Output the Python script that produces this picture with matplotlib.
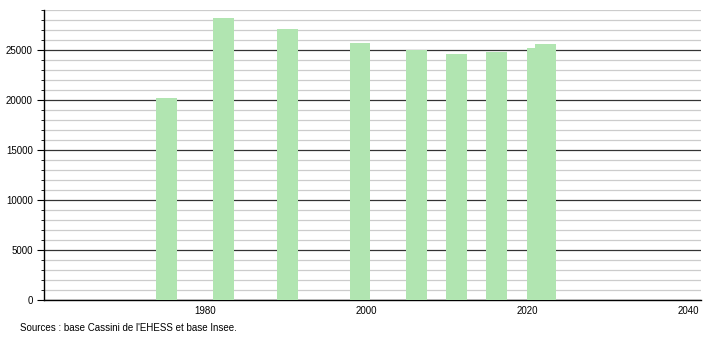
import matplotlib
matplotlib.use("Agg")
import matplotlib.pyplot as plt
from matplotlib.ticker import MultipleLocator

# data
years = [1975, 1982, 1990, 1999, 2006, 2011, 2016, 2021, 2022]
population = [20170, 28200, 27100, 25730, 25000, 24600, 24800, 25230, 25630]
xticks = [1980, 2000, 2020, 2040]

plt.rcParams['font.family'] = ['Liberation Sans', 'DejaVu Sans']

fig = plt.figure(figsize=(7.1, 3.4), dpi=100)
ax = fig.add_axes([44 / 710, 1 - 300 / 340, (701 - 44) / 710, 290 / 340])

# bars sit slightly right of the census year in the original
xpos = [y + 0.25 for y in years]
ax.bar(xpos, population, width=2.6, color="#b1e5b1", zorder=3)

ax.set_xlim(1960, 2041.6)
ax.set_ylim(0, 29000)
ax.set_xticks(xticks)
ax.yaxis.set_major_locator(MultipleLocator(5000))
ax.yaxis.set_minor_locator(MultipleLocator(1000))

ax.grid(axis="y", which="major", color="#333333", linewidth=0.9, zorder=1)
ax.grid(axis="y", which="minor", color="#cccccc", linewidth=0.9, zorder=1)

for side in ["top", "right"]:
    ax.spines[side].set_visible(False)
ax.spines["left"].set_linewidth(1)
ax.spines["bottom"].set_linewidth(1)

ax.tick_params(axis="x", length=0, labelsize=7, pad=4)
ax.tick_params(axis="y", which="major", length=5, labelsize=7, pad=3)
ax.tick_params(axis="y", which="minor", length=2.5)

fig.text(20 / 710, 1 - 328 / 340, "Sources : base Cassini de l'EHESS et base Insee.",
         fontsize=7, va="center", ha="left")

fig.savefig("out.png", dpi=100)
